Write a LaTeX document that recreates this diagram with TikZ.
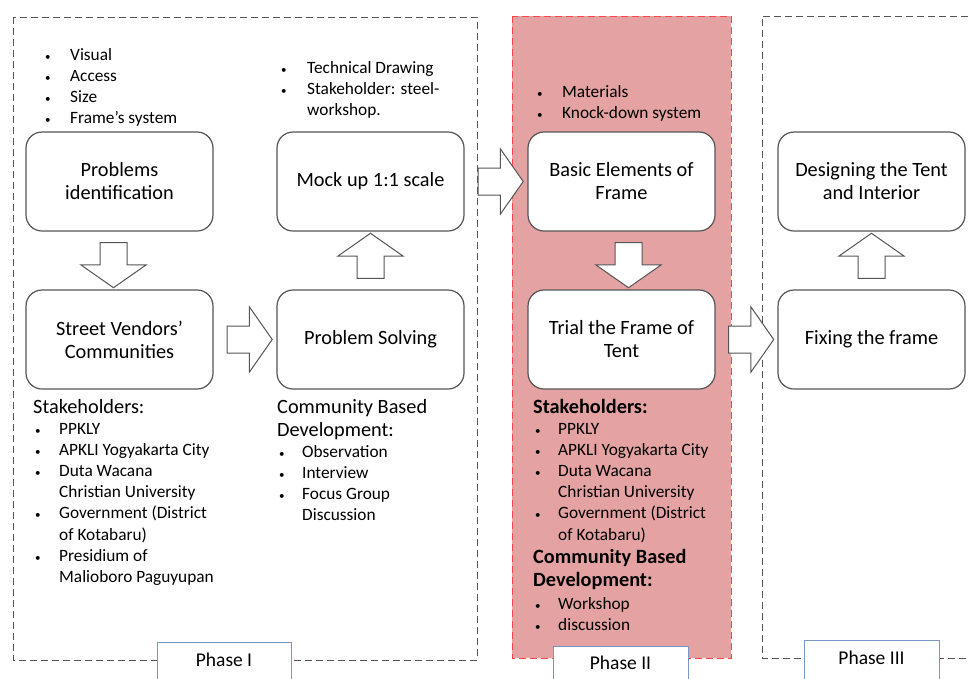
\documentclass[tikz,border=0pt]{standalone}
\usepackage{fontspec}
\setmainfont{Carlito}
\usetikzlibrary{positioning,shapes.arrows}

\definecolor{linegray}{RGB}{85,85,85}
\definecolor{phasered}{RGB}{228,162,162}
\definecolor{dashred}{RGB}{250,70,70}
\definecolor{labelblue}{RGB}{120,150,200}
\newcommand{\boxfont}{\fontsize{20.3}{23}\selectfont}
\newcommand{\listfont}{\fontsize{17.3}{21.2}\selectfont}
\newcommand{\bul}{{\fontsize{11}{11}\selectfont\textbullet}}

\begin{document}
\begin{tikzpicture}[x=1pt,y=-1pt,
		procbox/.style={rectangle, rounded corners=16pt, draw=linegray, fill=white, line width=1.2pt, outer sep=0pt, minimum width=187pt, minimum height=99pt, align=center, font=\boxfont},
		blkarrow/.style={single arrow, draw=linegray, fill=white, line width=1pt, inner xsep=0pt, inner ysep=13pt, minimum height=45pt, minimum width=64pt, single arrow head extend=19pt, single arrow tip angle=110, sloped, allow upside down},
		listtext/.style={anchor=base west, inner sep=0pt, font=\listfont},
		headtext/.style={anchor=base west, inner sep=0pt, font=\boxfont},
		phaselabel/.style={draw=labelblue, fill=white, line width=1pt, minimum width=134pt, minimum height=38pt, text height=9pt, text depth=0pt, anchor=north, font=\fontsize{19.5}{22}\selectfont},
		panel/.style={dash pattern=on 7pt off 4pt, line width=1pt, draw=linegray},
		]
		\useasboundingbox (0,0) rectangle (969,678);
		\clip (0,0) rectangle (969,678);
		
		%Panels
		\draw[panel] (13,17) rectangle (477,660);
		\draw[panel, draw=dashred, fill=phasered] (512,16) rectangle (731,658);
		\draw[panel] (990,16) -- (762,16) -- (762,658) -- (990,658);
		\draw[draw=labelblue, fill=white, line width=1pt] (157,642) rectangle (291,690);
		\draw[draw=labelblue, fill=white, line width=1pt] (553,646) rectangle (688,690);
		\draw[draw=labelblue, fill=white, line width=1pt] (804,640) rectangle (939,690);
		\node[phaselabel, draw=none, fill=none] (ph1) at (224,642) {Phase I};
		\node[phaselabel, draw=none, fill=none] (ph2) at (620.5,645) {Phase II};
		\node[phaselabel, draw=none, fill=none] (ph3) at (871.5,640) {Phase III};
		
		%Nodes
		\node[procbox]      (pid)   at (119.5,181.5)     {Problems\\identification};
		\node[procbox]      (svc)   [below=59pt of pid]  {Street Vendors'\\Communities};
		\node[procbox]      (mock)  [right=64pt of pid]  {Mock up 1:1 scale};
		\node[procbox]      (ps)    [below=59pt of mock] {Problem Solving};
		\node[procbox]      (bef)   [right=64pt of mock] {Basic Elements of\\Frame};
		\node[procbox]      (trial) [below=59pt of bef]  {Trial the Frame of\\Tent};
		\node[procbox]      (des)   [right=63pt of bef]  {Designing the Tent\\and Interior};
		\node[procbox]      (fix)   [below=59pt of des]  {Fixing the frame};
		
		%Lists
		\node[listtext] (lprob) at (45,60) {\begin{tabular}[t]{@{}p{25pt}@{}l@{}}
				\bul & Visual\\ \bul & Access\\ \bul & Size\\ \bul & Frame's system
			\end{tabular}};
		\node[listtext] (ltech) at (281,73) {\begin{tabular}[t]{@{}p{26pt}@{}l@{}}
				\bul & Technical Drawing\\ \bul & Stakeholder: steel-\\ & workshop.
			\end{tabular}};
		\node[listtext] (lmat) at (537,97) {\begin{tabular}[t]{@{}p{25pt}@{}l@{}}
				\bul & Materials\\ \bul & Knock-down system
			\end{tabular}};
		\node[headtext] (hstake1) at (33,413) {Stakeholders:};
		\node[listtext] (lstake1) at (35,434) {\begin{tabular}[t]{@{}p{24pt}@{}l@{}}
				\bul & PPKLY\\ \bul & APKLI Yogyakarta City\\
				\bul & Duta Wacana\\ & Christian University\\
				\bul & Government (District\\ & of Kotabaru)\\
				\bul & Presidium of\\ & Malioboro Paguyupan
			\end{tabular}};
		\node[headtext] (hcbd1) at (277,413) {\begin{tabular}[t]{@{}l@{}}
				Community Based\\ Development:
			\end{tabular}};
		\node[listtext] (lcbd1) at (279,457) {\begin{tabular}[t]{@{}p{23pt}@{}l@{}}
				\bul & Observation\\ \bul & Interview\\
				\bul & Focus Group\\ & Discussion
			\end{tabular}};
		\node[headtext, font=\boxfont\bfseries] (hstake2) at (533,413) {Stakeholders:};
		\node[listtext] (lstake2) at (535,434) {\begin{tabular}[t]{@{}p{23pt}@{}l@{}}
				\bul & PPKLY\\ \bul & APKLI Yogyakarta City\\
				\bul & Duta Wacana\\ & Christian University\\
				\bul & Government (District\\ & of Kotabaru)
			\end{tabular}};
		\node[headtext, font=\boxfont\bfseries] (hcbd2) at (533,563) {\begin{tabular}[t]{@{}l@{}}
				Community Based\\ Development:
			\end{tabular}};
		\node[listtext] (lcbd2) at (535,609) {\begin{tabular}[t]{@{}p{23pt}@{}l@{}}
				\bul & Workshop\\ \bul & discussion
			\end{tabular}};
		
		%Arrows
		\path ([xshift=-6pt]pid.south) -- node[blkarrow] {} ([xshift=-6pt]svc.north);
		\path (svc) -- node[blkarrow] {} (ps);
		\path (ps) -- node[blkarrow] {} (mock);
		\path (mock) -- node[blkarrow] {} (bef);
		\path ([xshift=7pt]bef.south) -- node[blkarrow] {} ([xshift=7pt]trial.north);
		\path (trial) -- node[blkarrow] {} (fix);
		\path (fix) -- node[blkarrow] {} (des);
	\end{tikzpicture}
\end{document}
